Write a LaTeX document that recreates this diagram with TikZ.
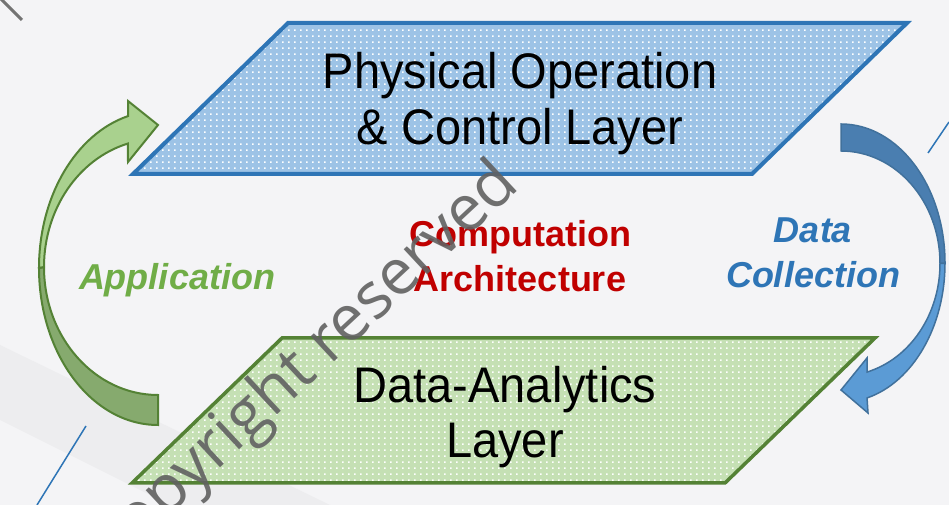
\documentclass[tikz,border=0pt]{standalone}
\usepackage{fontspec}
\setmainfont{Liberation Sans}
\newfontfamily\wmfont{Open Sans}
\usetikzlibrary{patterns}
\pgfdeclarepatternformonly{wdots}{\pgfpointorigin}{\pgfqpoint{6pt}{6pt}}{\pgfqpoint{6pt}{6pt}}{\pgfpathrectangle{\pgfpointorigin}{\pgfqpoint{2pt}{2pt}}\pgfusepath{fill}}
\definecolor{bgc}{HTML}{F4F4F6}
\definecolor{bandc}{HTML}{EDEDEF}
\definecolor{bluefill}{HTML}{9DC3E6}
\definecolor{blueline}{HTML}{2E75B6}
\definecolor{greenfill}{HTML}{C5E0B4}
\definecolor{greenline}{HTML}{548235}
\definecolor{garrowlight}{HTML}{A9D18E}
\definecolor{garrowdark}{HTML}{86AA6E}
\definecolor{barrowlight}{HTML}{5B9BD5}
\definecolor{barrowdark}{HTML}{4A7EB0}
\definecolor{barrowline}{HTML}{41719C}
\definecolor{redtxt}{HTML}{C00000}
\definecolor{greentxt}{HTML}{70AD47}
\definecolor{bluetxt}{HTML}{2E75B6}
\newcommand{\narrowtext}[1]{\scalebox{0.94}[1]{#1}}
\tikzset{
  toplayer/.style={preaction={fill=bluefill}, pattern=wdots, pattern color=white, draw=blueline, line width=4pt, line join=miter},
  botlayer/.style={preaction={fill=greenfill}, pattern=wdots, pattern color=white, draw=greenline, line width=3.5pt, line join=miter},
  garrow/.style={draw=greenline, line width=2pt, line join=miter},
  barrow/.style={draw=barrowline, line width=1.5pt, line join=miter},
  layertext/.style={anchor=base, font=\fontsize{50}{50}\selectfont, text=black, inner sep=0pt},
  sidetext/.style={anchor=base, font=\fontsize{36}{36}\selectfont\bfseries, inner sep=0pt},
  deco/.style={draw=blueline, line width=1.5pt}
}
\begin{document}
\begin{tikzpicture}[x=1pt,y=1pt]
\useasboundingbox (0,0) rectangle (949,505);
\fill[bgc] (0,0) rectangle (949,505);
\fill[bandc] (0,160) -- (0,85) -- (170,0) -- (330,0) -- cycle;
% decorative lines
\draw[deco] (928,352) -- (949,383);
\draw[deco] (86,79) -- (37,0);
\draw[draw=black!55, line width=3pt] (0,507) -- (22,485);
% layers
\path[toplayer] (288,482) -- (907,482) -- (752,331) -- (133,331) -- cycle;
\path[botlayer] (282,167) -- (875,167) -- (725,22) -- (132,22) -- cycle;
% green curved arrow (Application)
\path[garrow, fill=garrowdark] (39,237) arc[start angle=180, end angle=270, x radius=119, y radius=157]
  -- (158,110) arc[start angle=270, end angle=180, x radius=114, y radius=128] -- cycle;
\path[garrow, fill=garrowlight] (128,388.9) arc[start angle=104.6, end angle=180, x radius=119, y radius=157]
  -- (44,238) arc[start angle=180, end angle=105.3, x radius=114, y radius=128]
  -- (128,343) -- (158,380) -- (128,404) -- cycle;
% blue curved arrow (Data Collection)
\path[barrow, fill=barrowdark] (841,381) arc[start angle=90, end angle=0, x radius=104, y radius=139.2]
  -- (940,241.5) arc[start angle=0, end angle=90, x radius=99, y radius=112.5] -- cycle;
\path[barrow, fill=barrowlight] (945,241.8) arc[start angle=0, end angle=-75.5, x radius=104, y radius=139.2]
  -- (868,92) -- (841,115) -- (867,147) -- (867,132.95)
  arc[start angle=-74.77, end angle=0, x radius=99, y radius=112.5] -- cycle;
% texts
\node[layertext] (phys1) at (520,416) {\narrowtext{Physical Operation}};
\node[layertext] (phys2) at (520,360) {\narrowtext{\& Control Layer}};
\node[layertext] (data1) at (505,102) {\narrowtext{Data-Analytics}};
\node[layertext] (data2) at (505,47) {\narrowtext{Layer}};
\node[sidetext, text=redtxt] (comp1) at (520,258) {Computation};
\node[sidetext, text=redtxt] (comp2) at (520,213) {Architecture};
\node[sidetext, text=greentxt, font=\fontsize{36}{36}\selectfont\bfseries\itshape] (app) at (177,215) {Application};
\node[sidetext, text=bluetxt, font=\fontsize{36}{36}\selectfont\bfseries\itshape] (dc1) at (813,262) {Data};
\node[sidetext, text=bluetxt, font=\fontsize{36}{36}\selectfont\bfseries\itshape] (dc2) at (813,217) {Collection};
% watermark
\node[rotate=43, anchor=base, font=\wmfont\fontsize{64}{64}\selectfont, text=black!62, text opacity=0.9, inner sep=0pt] (wm) at (318,128) {copyright reserved};
\end{tikzpicture}
\end{document}
